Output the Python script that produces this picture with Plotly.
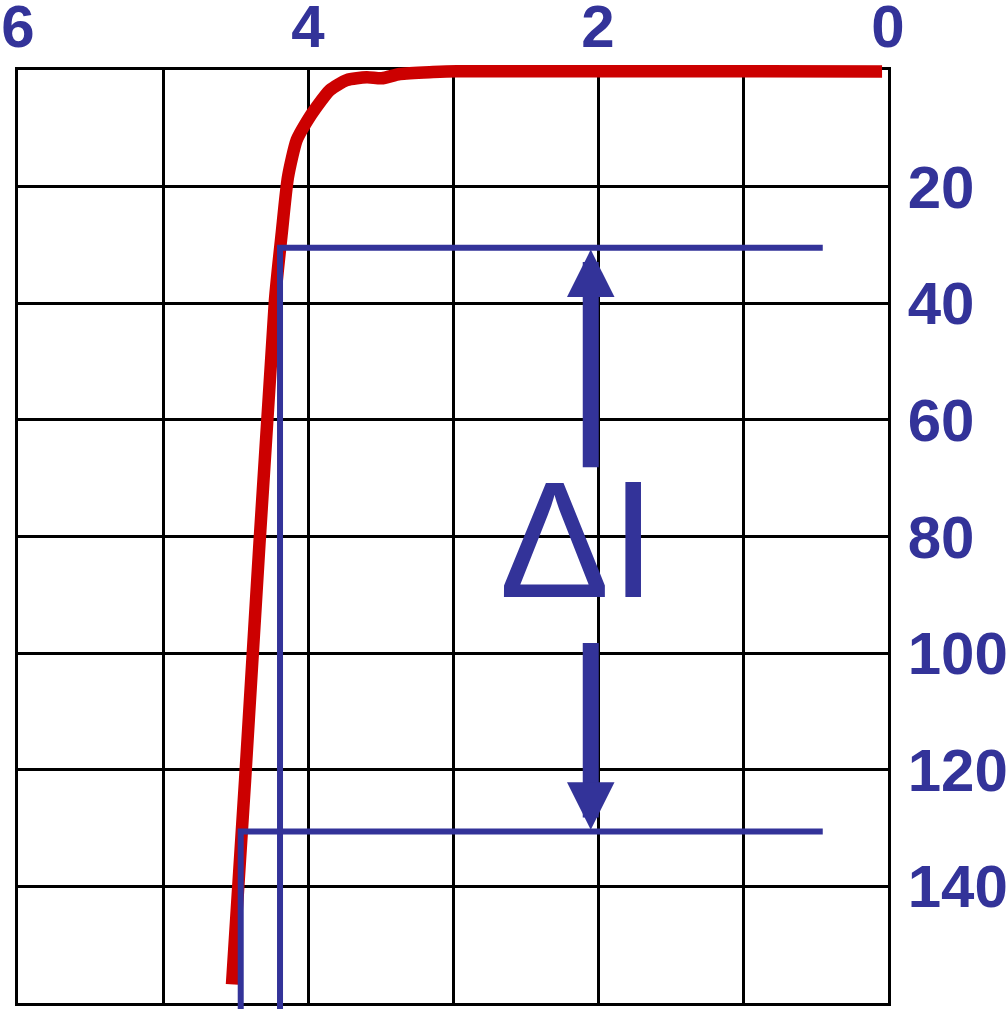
import plotly.graph_objects as go

# ---------------- data ----------------
curve_x = [4.524, 4.434, 4.228, 4.181, 4.138, 4.078, 4.009, 3.94, 3.848, 3.733,
           3.595, 3.492, 3.366, 3.138, 2.974, 2.676, 2.0, 1.0, 0.041]
curve_y = [156.8, 121.8, 39.5, 27.96, 18.35, 12.0, 8.87, 6.3, 3.43, 1.72,
           1.25, 1.42, 0.69, 0.35, 0.2, 0.2, 0.2, 0.22, 0.25]

level_top = 30.5        # upper current level
level_bottom = 130.6    # lower current level
x_top_left = 4.193
x_bottom_left = 4.464
x_right = 0.45

arrow_x = 2.05
arrow_up_tail = 68.4
arrow_up_tip = 30.8
arrow_down_tail = 98.0
arrow_down_tip = 130.3

x_tickvals = [0, 1, 2, 3, 4, 5, 6]
x_ticktext = ["0", "", "2", "", "4", "", "6"]
y_tickvals = [0, 20, 40, 60, 80, 100, 120, 140, 160]
y_ticktext = ["", "20", "40", "60", "80", "100", "120", "140", ""]

# ---------------- geometry ----------------
W, H = 1008, 1009
L, R, T, B = 18, 120, 60, 0
main_top, main_bottom = 70, 1003
ph = H - T - B
y_dom = [(H - B - main_bottom) / ph, (H - B - main_top) / ph]
scale = (main_bottom - main_top) / 160.0
y2_range = [160 + (H - B - main_bottom) / scale, -(main_top - T) / scale]

BLUE = "#333399"
RED = "#cc0000"
tickfont = dict(family="Liberation Sans, Arial, sans-serif", size=60,
                color=BLUE, weight="bold")

fig = go.Figure()

# empty trace so that the main (gridded) subplot is created
fig.add_trace(go.Scatter(x=[], y=[], xaxis="x", yaxis="y", hoverinfo="skip"))

fig.add_trace(go.Scatter(x=curve_x, y=curve_y, mode="lines",
                         line=dict(color=RED, width=12.5, shape="spline", smoothing=0.6),
                         xaxis="x2", yaxis="y2", hoverinfo="skip"))

# bracket lines
bottom_y = y2_range[0]
fig.add_trace(go.Scatter(x=[x_right, x_top_left, x_top_left],
                         y=[level_top, level_top, bottom_y], mode="lines",
                         line=dict(color=BLUE, width=6), xaxis="x2", yaxis="y2",
                         hoverinfo="skip"))
fig.add_trace(go.Scatter(x=[x_right, x_bottom_left, x_bottom_left],
                         y=[level_bottom, level_bottom, bottom_y], mode="lines",
                         line=dict(color=BLUE, width=6), xaxis="x2", yaxis="y2",
                         hoverinfo="skip"))

fig.add_annotation(x=arrow_x, y=arrow_up_tip, ax=arrow_x, ay=arrow_up_tail,
                   xref="x2", yref="y2", axref="x2", ayref="y2", text="",
                   showarrow=True, arrowhead=2, arrowwidth=16, arrowsize=0.594,
                   arrowcolor=BLUE)
fig.add_annotation(x=arrow_x, y=arrow_down_tip, ax=arrow_x, ay=arrow_down_tail,
                   xref="x2", yref="y2", axref="x2", ayref="y2", text="",
                   showarrow=True, arrowhead=2, arrowwidth=16, arrowsize=0.594,
                   arrowcolor=BLUE)

fig.add_annotation(x=2.303, y=80.5, xref="x2", yref="y2", text="Δ",
                   showarrow=False,
                   font=dict(family="Liberation Sans, Arial, sans-serif",
                             size=166, color=BLUE))
fig.add_annotation(x=1.759, y=80.4, xref="x2", yref="y2", text="I",
                   showarrow=False,
                   font=dict(family="Liberation Sans, Arial, sans-serif",
                             size=167, color=BLUE))

gridkw = dict(showgrid=True, gridcolor="black", gridwidth=2.5, zeroline=False,
              showline=True, linecolor="black", linewidth=2.5, mirror=True,
              ticks="", tickfont=tickfont, automargin=False)

fig.update_layout(
    width=W, height=H, autosize=False,
    margin=dict(l=L, r=R, t=T, b=B, pad=0, autoexpand=False),
    paper_bgcolor="white", plot_bgcolor="rgba(0,0,0,0)",
    showlegend=False,
    xaxis=dict(range=[6, 0], domain=[0, 1], side="top", anchor="y",
               tickmode="array", tickvals=x_tickvals, ticktext=x_ticktext,
               ticklabelstandoff=-4, **gridkw),
    yaxis=dict(range=[160, 0], domain=y_dom, side="right", anchor="x",
               tickmode="array", tickvals=y_tickvals, ticktext=y_ticktext,
               ticklabelstandoff=5, **gridkw),
    xaxis2=dict(range=[6, 0], domain=[0, 1], anchor="y2", visible=False,
                automargin=False),
    yaxis2=dict(range=y2_range, domain=[0, 1], anchor="x2", visible=False,
                automargin=False),
)

fig.write_html("out.html", config={"displayModeBar": False},
               post_script="document.body.style.margin='0';")
